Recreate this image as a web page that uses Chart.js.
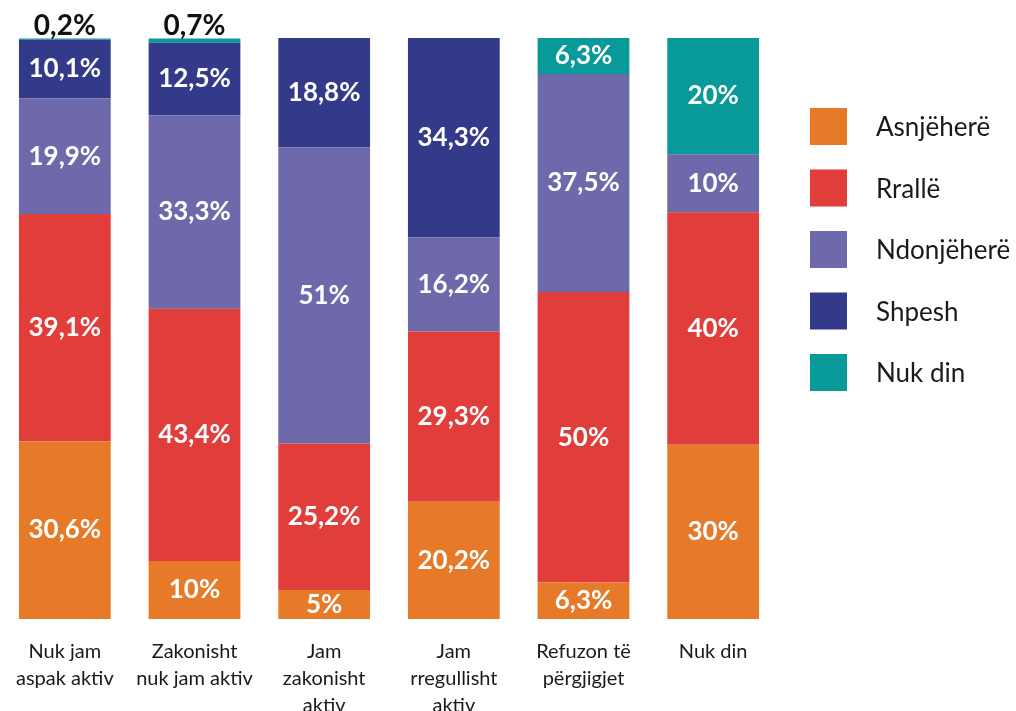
<!DOCTYPE html>
<html lang="sq">
<head>
<meta charset="UTF-8">
<title>Aktiviteti</title>
<script src="https://cdn.jsdelivr.net/npm/chart.js"></script>
<style>
  html, body { margin: 0; padding: 0; background: #fff; overflow: hidden; }
  canvas { display: block; }
</style>
</head>
<body>
<canvas id="grafik" width="1016" height="711"></canvas>
<script>
// kategoritë (etiketat e boshtit x, me rreshta)
const kategorite = [
  ['Nuk jam', 'aspak aktiv'],
  ['Zakonisht', 'nuk jam aktiv'],
  ['Jam', 'zakonisht', 'aktiv'],
  ['Jam', 'rregullisht', 'aktiv'],
  ['Refuzon të', 'përgjigjet'],
  'Nuk din'
];

const asnjehere  = [30.6, 10, 5, 20.2, 6.3, 30];
const ralle      = [39.1, 43.4, 25.2, 29.3, 50, 40];
const ndonjehere = [19.9, 33.3, 51, 16.2, 37.5, 10];
const shpesh     = [10.1, 12.5, 18.8, 34.3, 0, 0];
const nukDin     = [0.2, 0.7, 0, 0, 6.3, 20];

const FONT = "Lato, 'Open Sans', sans-serif";

function formato(v) {
  return String(v).replace('.', ',') + '%';
}

// etiketat e vlerave brenda / mbi shtyllat
const etiketaPlugin = {
  id: 'etiketa',
  afterDatasetsDraw(chart) {
    const ctx = chart.ctx;
    ctx.save();
    ctx.textAlign = 'center';
    chart.data.datasets.forEach((ds, i) => {
      const meta = chart.getDatasetMeta(i);
      meta.data.forEach((bar, j) => {
        const v = ds.data[j];
        if (!v) return;
        const h = bar.base - bar.y;
        if (h < 20) {
          // vlerat shumë të vogla shkruhen mbi shtyllë
          ctx.font = "bold 28px " + FONT;
          ctx.fillStyle = '#111';
          ctx.textBaseline = 'bottom';
          ctx.fillText(formato(v), bar.x, bar.y + 1);
        } else {
          ctx.font = "bold 26px " + FONT;
          ctx.fillStyle = '#fff';
          ctx.textBaseline = 'middle';
          ctx.fillText(formato(v), bar.x, (bar.y + bar.base) / 2);
        }
      });
    });
    ctx.restore();
  }
};

// legjenda në të djathtë
const legjendaPlugin = {
  id: 'legjenda',
  afterDraw(chart) {
    const ctx = chart.ctx;
    const x0 = chart.chartArea.right + 32;
    ctx.save();
    ctx.font = "26px " + FONT;
    ctx.textBaseline = 'middle';
    ctx.textAlign = 'left';
    chart.data.datasets.forEach((ds, i) => {
      const y = 108 + i * 61.5;
      ctx.fillStyle = ds.backgroundColor;
      ctx.fillRect(x0, y, 37, 37);
      ctx.fillStyle = '#1a1a1a';
      ctx.fillText(ds.label, x0 + 66, y + 20);
    });
    ctx.restore();
  }
};

new Chart(document.getElementById('grafik'), {
  type: 'bar',
  data: {
    labels: kategorite,
    datasets: [
      { label: 'Asnjëherë',  data: asnjehere,  backgroundColor: '#E77A29' },
      { label: 'Rrallë',     data: ralle,      backgroundColor: '#E03D3B' },
      { label: 'Ndonjëherë', data: ndonjehere, backgroundColor: '#6D69AB' },
      { label: 'Shpesh',     data: shpesh,     backgroundColor: '#343A8A' },
      { label: 'Nuk din',    data: nukDin,     backgroundColor: '#079A98' }
    ]
  },
  options: {
    responsive: false,
    animation: false,
    layout: { padding: { top: 38, right: 238, left: -2, bottom: 0 } },
    datasets: {
      bar: { barPercentage: 1, categoryPercentage: 92 / 130, borderWidth: 0 }
    },
    plugins: {
      legend: { display: false },
      tooltip: { enabled: false }
    },
    scales: {
      x: {
        stacked: true,
        grid: { display: false, drawTicks: false },
        border: { display: false },
        ticks: {
          color: '#1a1a1a',
          padding: 19,
          maxRotation: 0,
          autoSkip: false,
          font: { family: FONT, size: 20, lineHeight: 1.35 }
        },
        afterFit(axis) {
          axis.height = 92;
          axis.paddingLeft = 0;
          axis.paddingRight = 0;
        }
      },
      y: {
        stacked: true,
        display: false,
        min: 0,
        max: 100
      }
    }
  },
  plugins: [etiketaPlugin, legjendaPlugin]
});
</script>
</body>
</html>
